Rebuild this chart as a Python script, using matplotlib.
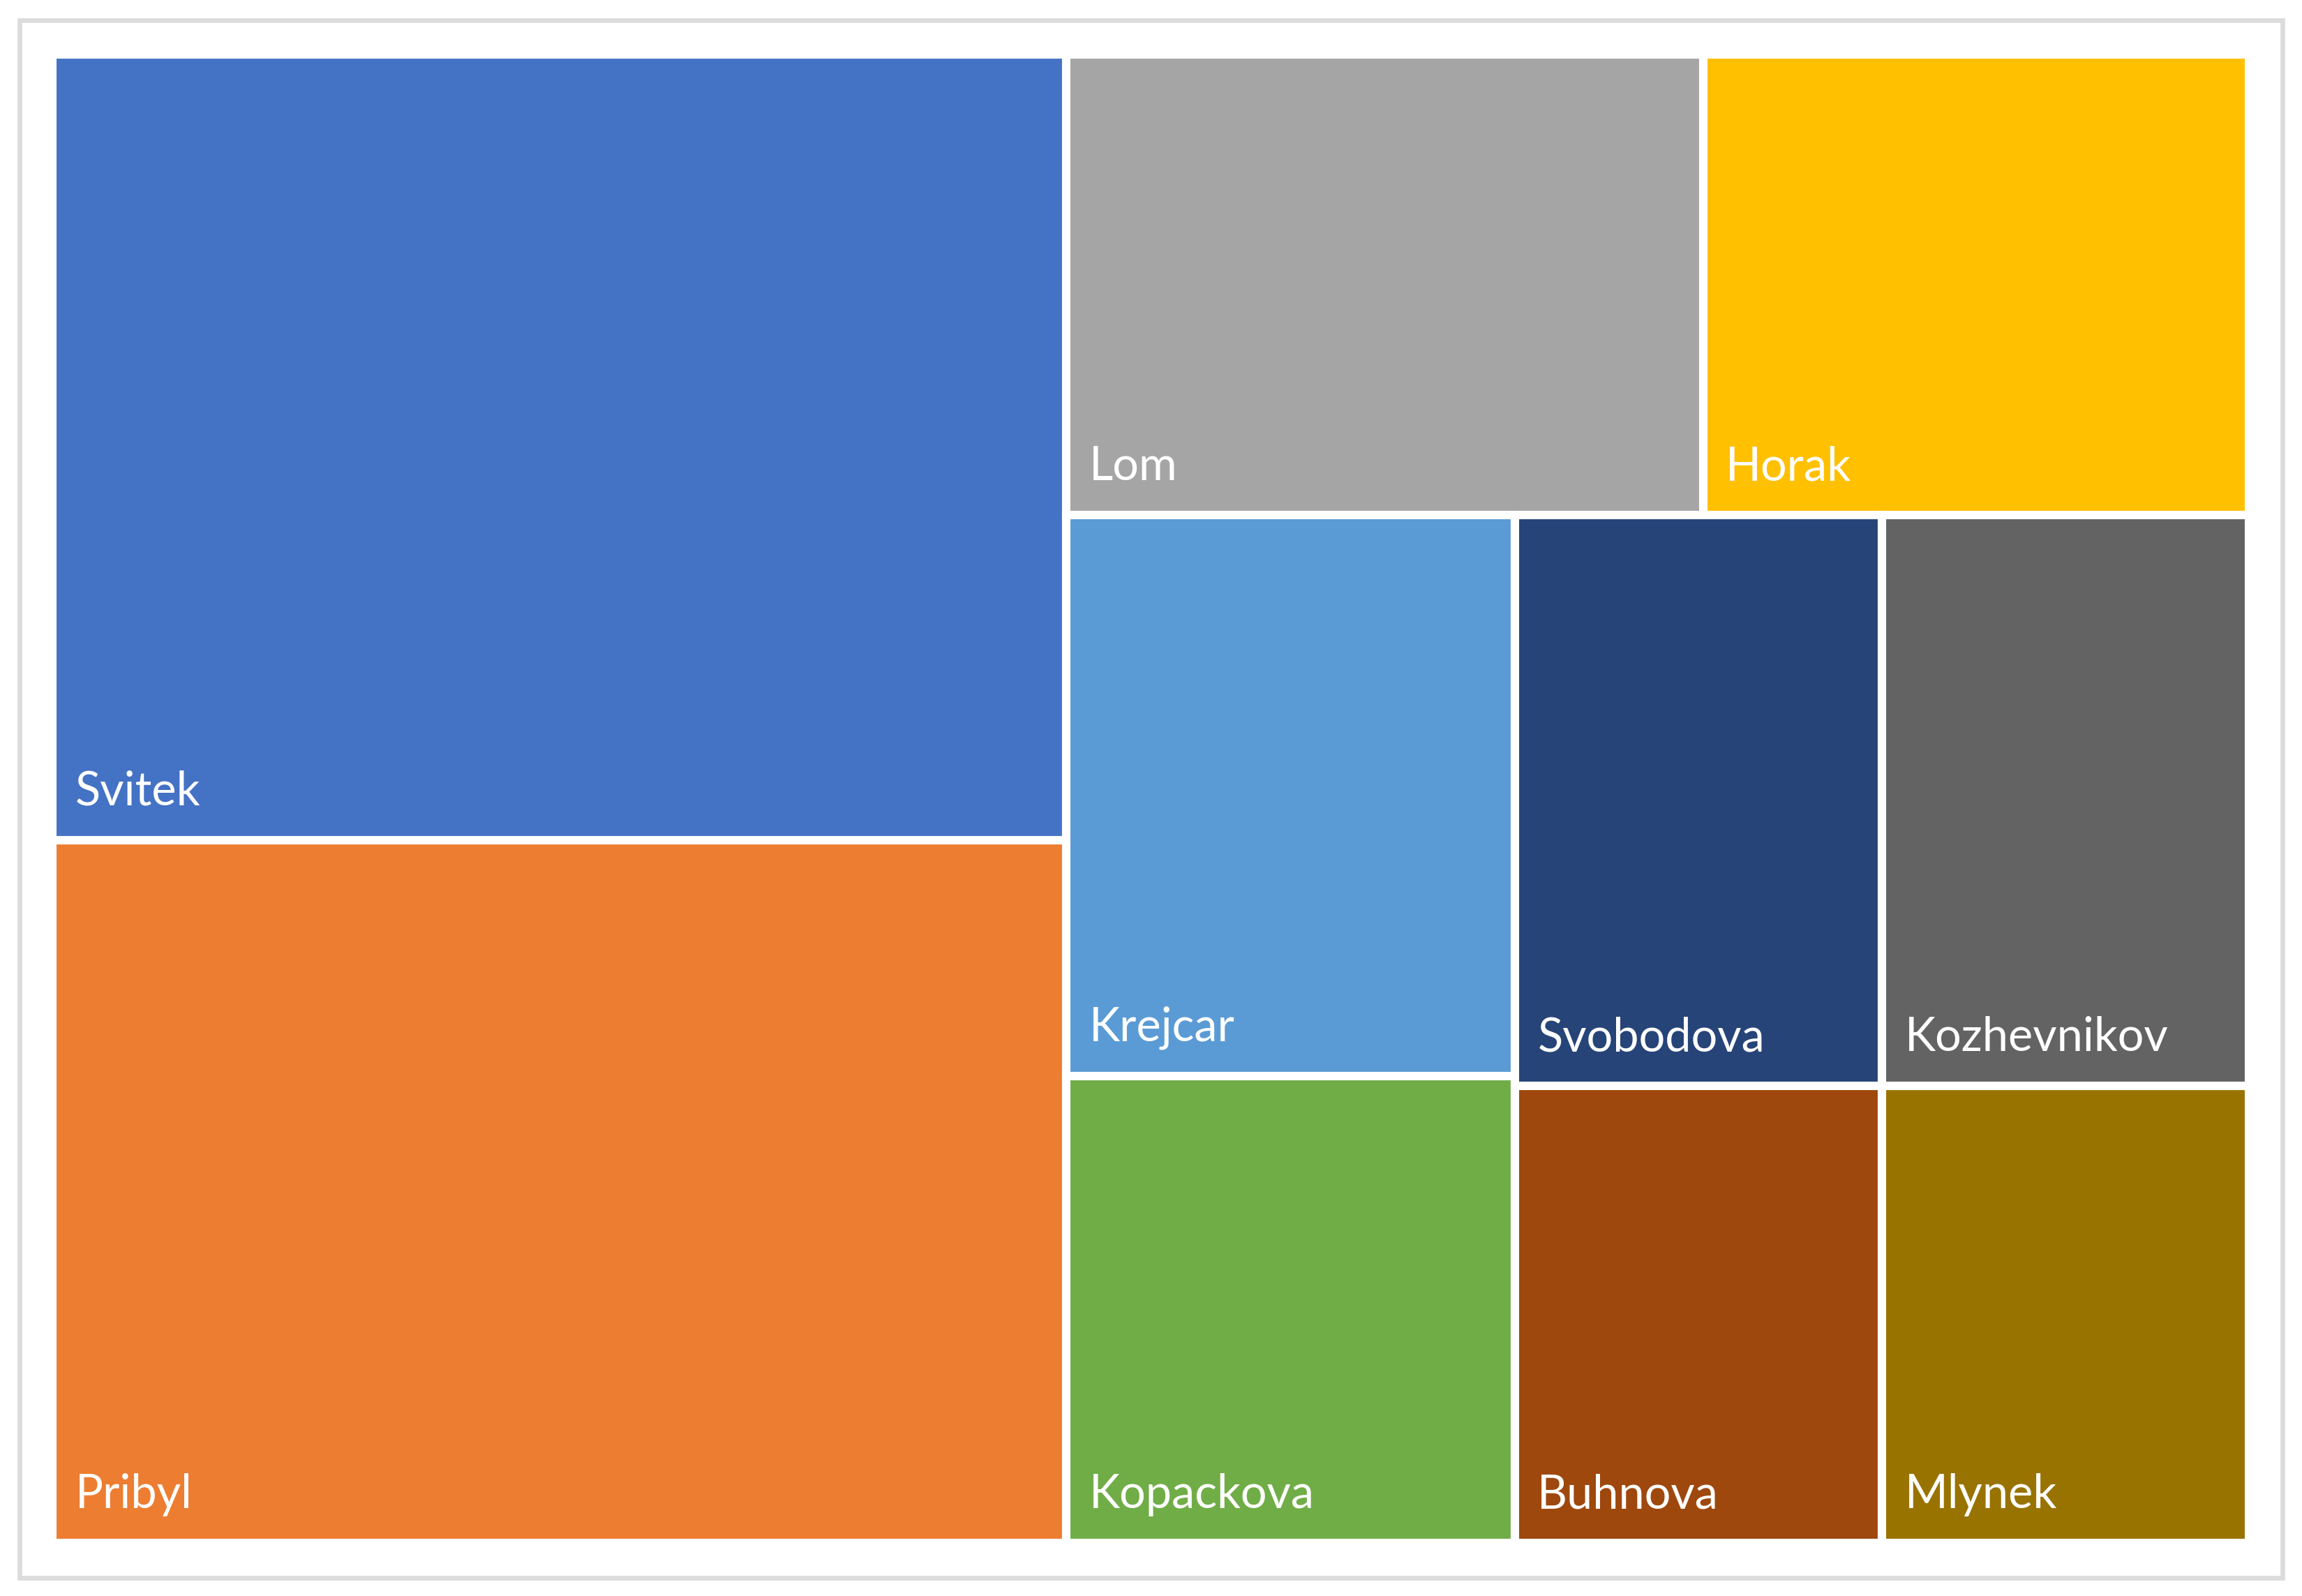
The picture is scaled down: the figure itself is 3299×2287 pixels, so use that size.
import matplotlib
matplotlib.use("Agg")
import matplotlib.pyplot as plt
from matplotlib.patches import Rectangle

# ---- data ----
names = ["Svitek", "Pribyl", "Lom", "Horak", "Krejcar", "Kopackova",
         "Svobodova", "Kozhevnikov", "Buhnova", "Mlynek"]
values = [19, 17, 7, 6, 6, 5, 5, 5, 4, 4]
colors = ["#4472C4", "#ED7D31", "#A5A5A5", "#FFC000", "#5B9BD5", "#70AD47",
          "#264478", "#636363", "#9E480E", "#997300"]


def worst(row, short):
    s = sum(row)
    return max(max(short * short * r / (s * s), s * s / (short * short * r)) for r in row)


def squarify(vals, x, y, w, h):
    total = sum(vals)
    sizes = [v / total * w * h for v in vals]
    rects = []
    while sizes:
        short = min(w, h)
        row = [sizes[0]]
        i = 1
        while i < len(sizes) and worst(row + [sizes[i]], short) <= worst(row, short):
            row.append(sizes[i])
            i += 1
        s = sum(row)
        if w >= h:
            cw = s / h
            yy = y
            for a in row:
                rh = a / cw
                rects.append((x, yy, cw, rh))
                yy += rh
            x += cw
            w -= cw
        else:
            rh = s / w
            xx = x
            for a in row:
                rw = a / rh
                rects.append((xx, y, rw, rh))
                xx += rw
            y += rh
            h -= rh
        sizes = sizes[len(row):]
    return rects


DPI = 300
fig = plt.figure(figsize=(3299 / DPI, 2287 / DPI), dpi=DPI)
fig.patch.set_facecolor("white")

# outer light frame
fig.patches.append(Rectangle((0.0085, 0.0113), 0.9830, 0.9762, transform=fig.transFigure,
                             fill=False, edgecolor="#DCDCDC", linewidth=1.6))

left, right = 0.02273, 0.97696
bottom, top = 0.03323, 0.96589
ax = fig.add_axes([left, bottom, right - left, top - bottom])
W = fig.get_figwidth() * (right - left)
H = fig.get_figheight() * (top - bottom)
ax.set_xlim(0, W)
ax.set_ylim(H, 0)
ax.axis("off")

rects = squarify(values, 0, 0, W, H)
for (x, y, w, h), name, c in zip(rects, names, colors):
    ax.add_patch(Rectangle((x, y), w, h, facecolor=c, edgecolor="white", linewidth=2.9))
    ax.annotate(name, xy=(x, y + h), xytext=(7.8, 12.0), textcoords="offset points",
                ha="left", va="baseline", color="white", fontsize=16, family="Lato")

fig.savefig("out.png", dpi=DPI, facecolor="white")
